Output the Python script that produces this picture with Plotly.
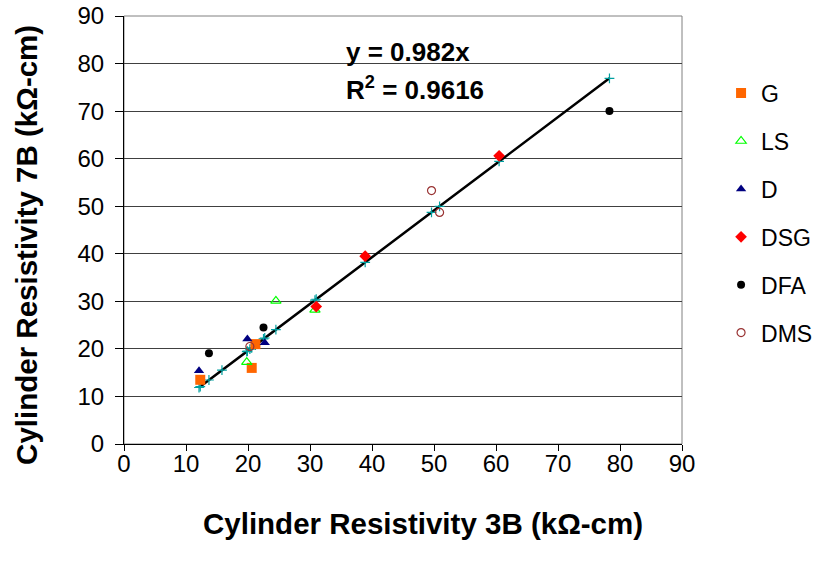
import plotly.graph_objects as go

# Cylinder resistivity, 3B vs 7B method (kOhm-cm), by mix group
g_x = [12.3, 20.6, 21.2]
g_y = [13.5, 16.0, 21.0]
ls_x = [19.8, 24.5, 30.8]
ls_y = [17.2, 30.1, 28.2]
d_x = [12.1, 19.9, 22.7]
d_y = [15.4, 22.1, 21.3]
dsg_x = [31.0, 38.9, 60.5]
dsg_y = [28.9, 39.5, 60.6]
dfa_x = [13.7, 22.5, 78.3]
dfa_y = [19.1, 24.5, 70.0]
dms_x = [20.3, 49.6, 50.9]
dms_y = [20.5, 53.3, 48.7]

# Linear fit through origin
slope = 0.982
r_squared = 0.9616
fit_x = sorted(set(g_x + ls_x + d_x + dsg_x + dfa_x + dms_x + [15.8]))
fit_y = [slope * v for v in fit_x]

ticks = [0, 10, 20, 30, 40, 50, 60, 70, 80, 90]
x_title = "Cylinder Resistivity 3B (kΩ-cm)"
y_title = "Cylinder Resistivity 7B (kΩ-cm)"

FONT = "Liberation Sans, Arial, sans-serif"

series = [
    ("G", g_x, g_y, dict(symbol="square", size=10, color="#FF6600")),
    ("LS", ls_x, ls_y, dict(symbol="triangle-up-open", size=9, color="#00FF00",
                            line=dict(color="#00FF00", width=1.2))),
    ("D", d_x, d_y, dict(symbol="triangle-up", size=9, color="#000080")),
    ("DSG", dsg_x, dsg_y, dict(symbol="diamond", size=9, color="#FF0000")),
    ("DFA", dfa_x, dfa_y, dict(symbol="circle", size=8, color="#000000")),
    ("DMS", dms_x, dms_y, dict(symbol="circle-open", size=8, color="#993333",
                               line=dict(color="#993333", width=1.2))),
]

fig = go.Figure()

# trend line with fitted-value markers
fig.add_trace(go.Scatter(
    x=fit_x, y=fit_y, mode="lines+markers", showlegend=False,
    line=dict(color="#000000", width=2.5),
    marker=dict(symbol="cross-thin", size=7, line=dict(color="#00A0A0", width=1.2)),
    hoverinfo="skip",
))

for name, xs, ys, mk in series:
    fig.add_trace(go.Scatter(
        x=xs, y=ys, mode="markers", name=name, marker=mk,
        legendgroup=name,
    ))

fig.add_annotation(
    x=35.5, y=82.4, xref="x", yref="y", xanchor="left", yanchor="middle",
    text=f"<b>y = {slope}x</b>", showarrow=False,
    font=dict(family=FONT, size=26, color="#000000"),
)
fig.add_annotation(
    x=35.5, y=74.8, xref="x", yref="y", xanchor="left", yanchor="middle",
    text=f"<b>R<sup>2</sup> = {r_squared}</b>", showarrow=False,
    font=dict(family=FONT, size=26, color="#000000"),
)

# axis titles, placed relative to the chart area
fig.add_annotation(
    x=0.536, y=-0.185, xref="paper", yref="paper",
    xanchor="center", yanchor="middle", showarrow=False,
    text=f"<b>{x_title}</b>", font=dict(family=FONT, size=29.5, color="#000000"),
)
fig.add_annotation(
    x=-0.174, y=0.465, xref="paper", yref="paper",
    xanchor="center", yanchor="middle", showarrow=False, textangle=-90,
    text=f"<b>{y_title}</b>", font=dict(family=FONT, size=29.5, color="#000000"),
)

# plot-area border
fig.add_shape(type="rect", xref="paper", yref="paper", x0=0, y0=0, x1=1, y1=1,
              line=dict(color="#808080", width=1), layer="below")

fig.update_layout(
    width=820, height=571,
    margin=dict(l=124, r=138, t=16, b=127, autoexpand=False),
    paper_bgcolor="white", plot_bgcolor="white",
    font=dict(family=FONT, size=24, color="#000000"),
    legend=dict(
        x=1.07, y=0.87, xanchor="left", yanchor="top",
        font=dict(family=FONT, size=23),
        tracegroupgap=15, traceorder="grouped",
        itemwidth=30,
    ),
    xaxis=dict(
        range=[0, 90], tickvals=ticks, ticks="outside", ticklen=6,
        tickcolor="#000000", showline=True, linecolor="#000000", linewidth=1,
        showgrid=False, zeroline=False, automargin=False,
        tickfont=dict(size=24), ticklabelstandoff=-8,
    ),
    yaxis=dict(
        range=[0, 90], tickvals=ticks, ticks="outside", ticklen=8,
        tickcolor="#000000", showline=True, linecolor="#000000", linewidth=1,
        showgrid=True, gridcolor="#404040", gridwidth=1, zeroline=False,
        automargin=False, tickfont=dict(size=24), ticklabelstandoff=6,
    ),
)

fig.write_html("out.html")
